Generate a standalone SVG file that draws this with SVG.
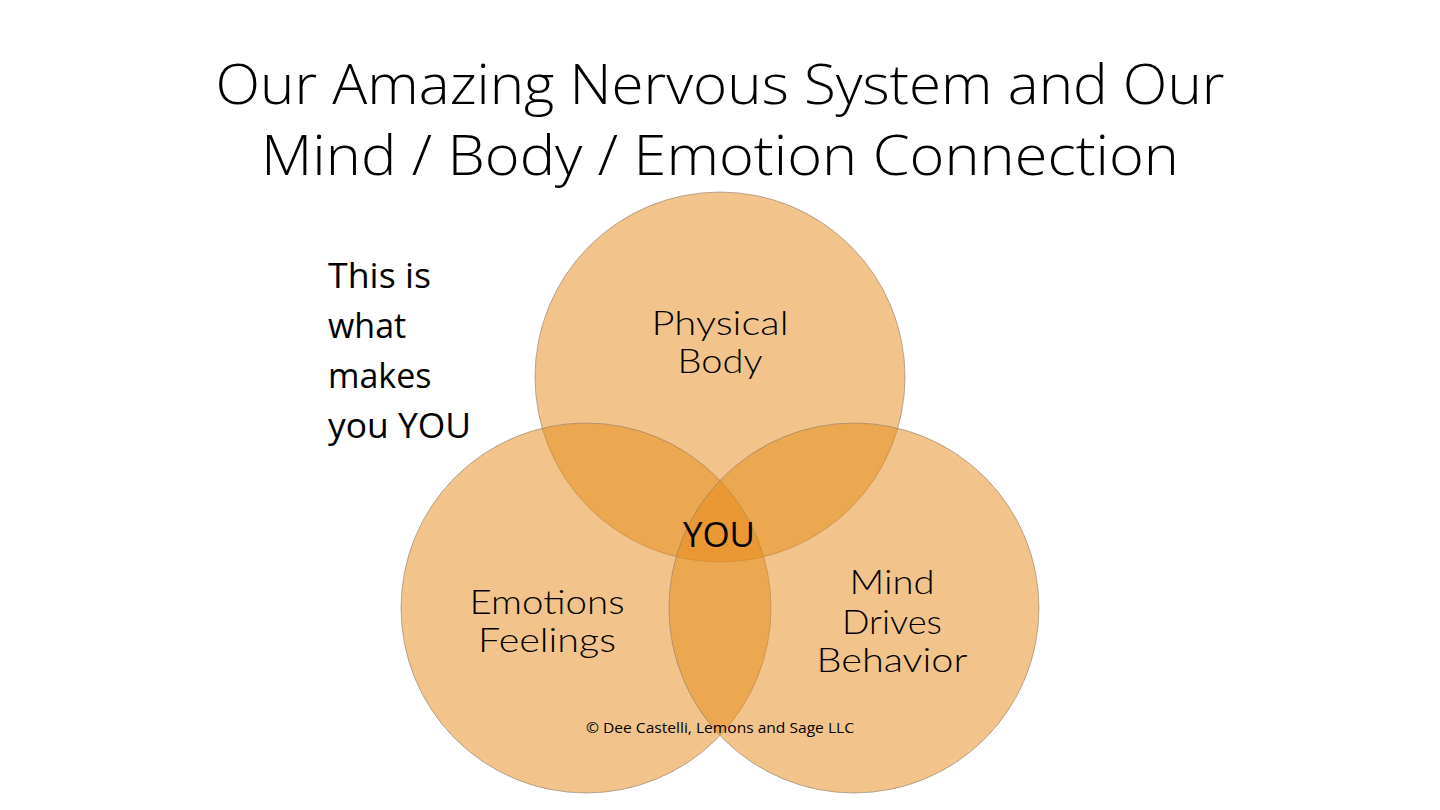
<svg xmlns="http://www.w3.org/2000/svg" width="1440" height="810" viewBox="0 0 1440 810">
<style>
.title{font-family:"Open Sans","Liberation Sans",sans-serif;font-weight:300;font-size:55px;fill:#000;text-anchor:middle}
.ring{fill:#E58917;fill-opacity:0.5;stroke:#8C7B6A;stroke-opacity:0.6;stroke-width:1}
.lbl{font-family:"Lato","DejaVu Sans",sans-serif;font-weight:300;font-size:33px;fill:#000;text-anchor:middle}
.side{font-family:"Open Sans","Liberation Sans",sans-serif;font-size:34px;fill:#000}
.you{font-family:"Open Sans","Liberation Sans",sans-serif;font-size:34px;fill:#000;text-anchor:middle}
.copy{font-family:"Open Sans","Liberation Sans",sans-serif;font-size:15px;fill:#000;text-anchor:middle}
</style>
<rect width="1440" height="810" fill="#fff"/>
<g id="title">
<text class="title" x="720" y="104" textLength="1009" lengthAdjust="spacingAndGlyphs">Our Amazing Nervous System and Our</text>
<text class="title" x="720" y="175" textLength="918" lengthAdjust="spacingAndGlyphs">Mind / Body / Emotion Connection</text>
</g>
<g id="side-note">
<text class="side" x="328" y="288" textLength="103" lengthAdjust="spacingAndGlyphs">This is</text>
<text class="side" x="328" y="338">what</text>
<text class="side" x="328" y="388">makes</text>
<text class="side" x="328" y="438" textLength="143" lengthAdjust="spacingAndGlyphs">you YOU</text>
</g>
<g id="node-physical">
<circle class="ring" cx="720" cy="377" r="185"/>
</g>
<g id="node-emotions">
<circle class="ring" cx="586" cy="608" r="185"/>
</g>
<g id="node-mind">
<circle class="ring" cx="854" cy="608" r="185"/>
</g>
<g id="labels">
<text class="lbl" x="720" y="335" textLength="137" lengthAdjust="spacingAndGlyphs">Physical</text>
<text class="lbl" x="720" y="373" textLength="85" lengthAdjust="spacingAndGlyphs">Body</text>
<text class="lbl" x="547" y="614" textLength="155" lengthAdjust="spacingAndGlyphs">Emotions</text>
<text class="lbl" x="547" y="652" textLength="138" lengthAdjust="spacingAndGlyphs">Feelings</text>
<text class="lbl" x="892" y="594" textLength="85" lengthAdjust="spacingAndGlyphs">Mind</text>
<text class="lbl" x="892" y="634" textLength="100" lengthAdjust="spacingAndGlyphs">Drives</text>
<text class="lbl" x="892" y="672" textLength="151" lengthAdjust="spacingAndGlyphs">Behavior</text>
</g>
<g id="node-you">
<text class="you" x="719" y="547" textLength="72" lengthAdjust="spacingAndGlyphs">YOU</text>
</g>
<g id="copyright">
<text class="copy" x="720" y="733" textLength="268" lengthAdjust="spacingAndGlyphs">© Dee Castelli, Lemons and Sage LLC</text>
</g>
</svg>
